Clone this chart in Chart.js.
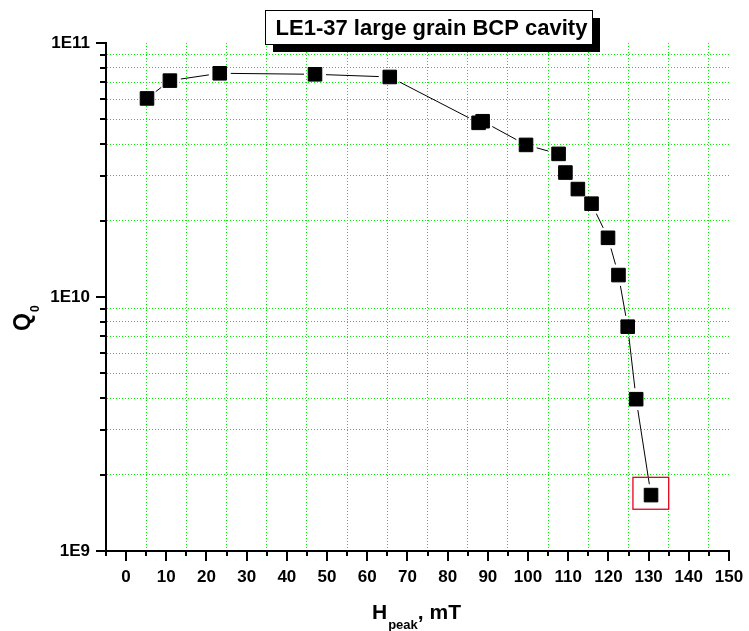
<!DOCTYPE html>
<html>
<head>
  <title>LE1-37 large grain BCP cavity</title>
  <style>
    body { margin: 0; padding: 0; background: #fff; }
    #wrap { width: 749px; height: 631px; position: relative; }
  </style>
</head>
<body>

<div id="wrap">
  <canvas id="q-chart"></canvas>
</div>

<script src="https://cdn.jsdelivr.net/npm/chart.js"></script>
<script>
// Q0 vs peak field, measured points
const hPeak = [5.2, 10.9, 23.3, 47.0, 65.6, 87.7, 88.7, 99.5, 107.6, 109.3, 112.4, 115.8, 119.9, 122.5, 124.8, 126.9, 130.6];
const q0 = [6.05e10, 7.11e10, 7.6e10, 7.53e10, 7.35e10, 4.85e10, 4.92e10, 3.97e10, 3.66e10, 3.09e10, 2.66e10, 2.33e10, 1.71e10, 1.22e10, 7.64e9, 3.96e9, 1.66e9];

// axis ranges and ticks
const xRange = [-5, 150];
const xTicks = [];
for (let v = -5; v <= 150; v += 5) xTicks.push(v);
const yRange = [1e9, 1e11];
const yDecades = [1e9, 1e10, 1e11];
const yMinorSteps = [2, 3, 4, 5, 6, 7, 8, 9];
const yTicks = [];
yDecades.forEach((d, i) => {
  yTicks.push(d);
  if (i < yDecades.length - 1) yMinorSteps.forEach(m => yTicks.push(d * m));
});

// last point is marked with a red frame (in data units)
const markBox = { xMin: 126.1, xMax: 135.0, yMin: 1.46e9, yMax: 1.95e9 };

const titleText = 'LE1-37 large grain BCP cavity';
const FONT = "'Liberation Sans', Arial, sans-serif";
const GRID_GREEN = 'rgb(0, 240, 0)';
const NONE = 'rgba(0,0,0,0)';

const isMajorX = v => v % 10 === 0;
const isDecade = v => Math.abs(Math.log10(v) - Math.round(Math.log10(v))) < 1e-9;

// connecting line with gaps around the symbols
const gapLines = {
  id: 'gapLines',
  beforeDatasetsDraw(chart) {
    const pts = chart.getDatasetMeta(0).data;
    const ctx = chart.ctx;
    const gap = 11;
    ctx.save();
    ctx.strokeStyle = '#000';
    ctx.lineWidth = 1;
    for (let i = 1; i < pts.length; i++) {
      const a = pts[i - 1], b = pts[i];
      const dx = b.x - a.x, dy = b.y - a.y;
      const len = Math.hypot(dx, dy);
      if (len <= 2 * gap + 1) continue;
      const ux = dx / len, uy = dy / len;
      ctx.beginPath();
      ctx.moveTo(a.x + ux * gap, a.y + uy * gap);
      ctx.lineTo(b.x - ux * gap, b.y - uy * gap);
      ctx.stroke();
    }
    ctx.restore();
  }
};

const redFrame = {
  id: 'redFrame',
  afterDatasetsDraw(chart) {
    const xs = chart.scales.x, ys = chart.scales.y;
    const x1 = xs.getPixelForValue(markBox.xMin), x2 = xs.getPixelForValue(markBox.xMax);
    const y1 = ys.getPixelForValue(markBox.yMax), y2 = ys.getPixelForValue(markBox.yMin);
    const ctx = chart.ctx;
    ctx.save();
    ctx.strokeStyle = '#e8001c';
    ctx.lineWidth = 1.3;
    ctx.strokeRect(x1, y1, x2 - x1, y2 - y1);
    ctx.restore();
  }
};

// outward tick marks, long at labelled values
const tickMarks = {
  id: 'tickMarks',
  afterDraw(chart) {
    const ctx = chart.ctx;
    const xs = chart.scales.x, ys = chart.scales.y;
    const area = chart.chartArea;
    ctx.save();
    ctx.strokeStyle = '#000';
    ctx.lineWidth = 2;
    xs.ticks.forEach(t => {
      const px = Math.round(xs.getPixelForValue(t.value));
      const len = isMajorX(t.value) ? 10 : 5;
      ctx.beginPath();
      ctx.moveTo(px, area.bottom);
      ctx.lineTo(px, area.bottom + len);
      ctx.stroke();
    });
    ys.ticks.forEach(t => {
      const py = Math.round(ys.getPixelForValue(t.value));
      const len = isDecade(t.value) ? 10 : 6;
      ctx.beginPath();
      ctx.moveTo(area.left, py);
      ctx.lineTo(area.left - len, py);
      ctx.stroke();
    });
    ctx.restore();
  }
};

// framed title with drop shadow and axis titles with subscripts
const labels = {
  id: 'labels',
  afterDraw(chart) {
    const ctx = chart.ctx;
    ctx.save();

    const bx = 265, by = 10, bw = 327, bh = 34;
    ctx.fillStyle = '#000';
    ctx.fillRect(bx + 8, by + 8, bw, bh);
    ctx.fillStyle = '#fff';
    ctx.fillRect(bx, by, bw, bh);
    ctx.strokeStyle = '#000';
    ctx.lineWidth = 1;
    ctx.strokeRect(bx + 0.5, by + 0.5, bw, bh);
    ctx.fillStyle = '#000';
    ctx.font = 'bold 22px ' + FONT;
    ctx.textAlign = 'center';
    ctx.textBaseline = 'alphabetic';
    ctx.fillText(titleText, bx + bw / 2 + 3, by + 25);

    // x axis title: H_peak, mT
    ctx.textAlign = 'left';
    let x = 372, y = 619;
    ctx.font = 'bold 21px ' + FONT;
    ctx.fillText('H', x, y);
    x += ctx.measureText('H').width + 1;
    ctx.font = 'bold 13px ' + FONT;
    ctx.fillText('peak', x, y + 10);
    x += ctx.measureText('peak').width;
    ctx.font = 'bold 21px ' + FONT;
    ctx.fillText(', mT', x, y);

    // y axis title: Q_0
    ctx.translate(30, 331);
    ctx.rotate(-Math.PI / 2);
    ctx.font = 'bold 23px ' + FONT;
    ctx.fillText('Q', 0, 0);
    const qw = ctx.measureText('Q').width;
    ctx.font = 'bold 12px ' + FONT;
    ctx.fillText('0', qw + 1, 9);

    ctx.restore();
  }
};

const ctx = document.getElementById('q-chart').getContext('2d');
new Chart(ctx, {
  type: 'scatter',
  data: {
    datasets: [{
      label: 'Q0',
      data: hPeak.map((h, i) => ({ x: h, y: q0[i] })),
      showLine: false,
      pointStyle: 'rect',
      pointRadius: 9.6,
      pointBackgroundColor: '#000',
      pointBorderColor: '#000',
      pointBorderWidth: 1
    }]
  },
  options: {
    responsive: true,
    maintainAspectRatio: false,
    animation: false,
    layout: { padding: { top: 43, right: 20, left: 0, bottom: 0 } },
    plugins: {
      legend: { display: false },
      tooltip: { enabled: false },
      title: { display: false }
    },
    scales: {
      x: {
        type: 'linear',
        min: xRange[0],
        max: xRange[1],
        afterBuildTicks: s => { s.ticks = xTicks.map(v => ({ value: v })); },
        afterFit: s => { s.height = 80; s.paddingLeft = 0; s.paddingRight = 0; },
        border: { display: true, color: '#000', width: 2, dash: [1, 2] },
        grid: {
          drawTicks: false,
          lineWidth: 1,
          color: c => (c.tick && !isMajorX(c.tick.value) && c.tick.value !== xRange[0]) ? GRID_GREEN : NONE
        },
        ticks: {
          autoSkip: false,
          maxRotation: 0,
          padding: 16,
          color: '#000',
          font: { family: FONT, size: 17, weight: 'bold' },
          callback: v => isMajorX(v) ? String(v) : ''
        }
      },
      y: {
        type: 'logarithmic',
        min: yRange[0],
        max: yRange[1],
        afterBuildTicks: s => { s.ticks = yTicks.map(v => ({ value: v })); },
        afterFit: s => { s.width = 106; s.paddingTop = 0; s.paddingBottom = 0; },
        border: { display: true, color: '#000', width: 2, dash: [1, 2] },
        grid: {
          drawTicks: false,
          lineWidth: 1,
          color: c => (c.tick && !isDecade(c.tick.value)) ? GRID_GREEN : NONE
        },
        ticks: {
          autoSkip: false,
          padding: 16,
          color: '#000',
          font: { family: FONT, size: 17, weight: 'bold' },
          callback: v => isDecade(v) ? '1E' + Math.round(Math.log10(v)) : ''
        }
      }
    }
  },
  plugins: [gapLines, redFrame, tickMarks, labels]
});
</script>

</body>
</html>
